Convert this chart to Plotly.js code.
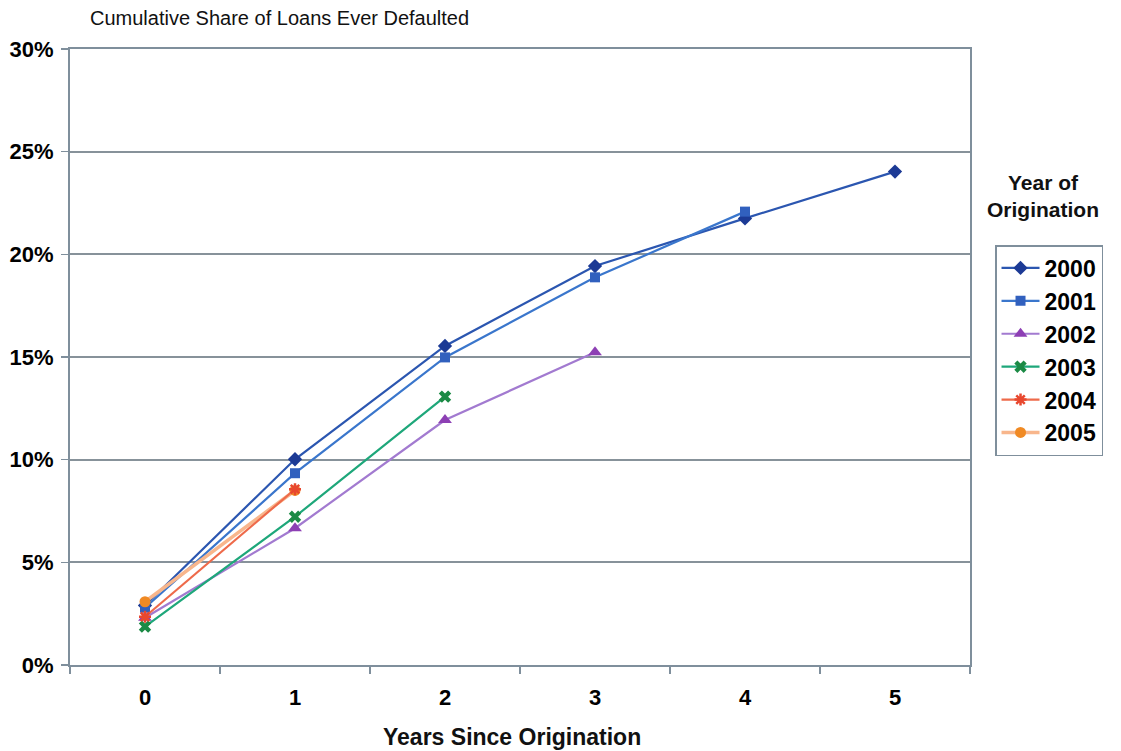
<!DOCTYPE html>
<html>
<head>
<meta charset="utf-8">
<script src="https://cdn.plot.ly/plotly-3.0.1.min.js"></script>
<style>html,body{margin:0;padding:0;background:#fff;}#chart{width:1121px;height:751px;}</style>
</head>
<body>
<div id="chart"></div>
<script>
const years = ["0", "1", "2", "3", "4", "5"];
const s2000 = [2.9, 10.02, 15.54, 19.43, 21.75, 24.03];
const s2001 = [2.79, 9.34, 14.98, 18.88, 22.08];
const s2002 = [2.3, 6.66, 11.93, 15.23];
const s2003 = [1.87, 7.22, 13.07];
const s2004 = [2.35, 8.56];
const s2005 = [3.08, 8.5];
const seriesNames = ["2000", "2001", "2002", "2003", "2004", "2005"];

const FONT = "Liberation Sans, Arial, sans-serif";

function tr(name, y, lineColor, markerColor, symbol, size, lw, rank) {
  return {
    type: "scatter", mode: "lines+markers", name: name,
    x: years.slice(0, y.length), y: y,
    line: {color: lineColor, width: lw},
    marker: {color: markerColor, symbol: symbol, size: size,
             line: {color: markerColor, width: symbol.indexOf("open") >= 0 ? 2.5 : 0}},
    legendgroup: name, legendrank: rank
  };
}

const data = [
  tr(seriesNames[0], s2000, "#2b56b0", "#1c3a95", "diamond", 11, 2.2, 1),
  tr(seriesNames[1], s2001, "#3a76cc", "#3160be", "square", 10, 2.2, 2),
  tr(seriesNames[2], s2002, "#a27ad0", "#8d3fb4", "triangle-up", 12, 2.2, 3),
  tr(seriesNames[3], s2003, "#1ea77a", "#1b8a45", "x", 11, 2.2, 4),
  tr(seriesNames[5], s2005, "#f8b68c", "#f08a24", "circle", 11, 3.5, 6),
  tr(seriesNames[4], s2004, "#ee6a4a", "#e8472e", "asterisk-open", 10, 2.2, 5)
];

const layout = {
  width: 1121, height: 751,
  margin: {l: 70, r: 151, t: 49, b: 86},
  paper_bgcolor: "#ffffff", plot_bgcolor: "#ffffff",
  font: {family: FONT, color: "#000"},
  showlegend: true,
  legend: {
    x: 1.0278, y: 0.6818, xanchor: "left", yanchor: "top",
    bgcolor: "#ffffff", bordercolor: "#7f8f9c", borderwidth: 1.5,
    font: {family: FONT, size: 23, weight: "bold", color: "#000"},
    tracegroupgap: 7, traceorder: "normal", itemwidth: 38
  },
  xaxis: {
    type: "category", range: [-0.5, 5.5], fixedrange: true,
    tickson: "boundaries", ticks: "outside", ticklen: 7, tickcolor: "#7f8f9c", tickwidth: 1.5,
    showline: true, linecolor: "#7f8f9c", linewidth: 2, mirror: true,
    showgrid: false, zeroline: false,
    tickfont: {family: FONT, size: 22, weight: "bold", color: "#000"},
    ticklabelstandoff: 12
  },
  yaxis: {
    range: [0, 30], dtick: 5, ticksuffix: "%", fixedrange: true,
    ticks: "outside", ticklen: 7, tickcolor: "#7f8f9c", tickwidth: 1.5,
    showline: true, linecolor: "#7f8f9c", linewidth: 2, mirror: true,
    showgrid: true, gridcolor: "#87929a", gridwidth: 2, zeroline: false,
    tickfont: {family: FONT, size: 22, weight: "bold", color: "#000"},
    ticklabelstandoff: 3
  },
  annotations: [
    {text: "Cumulative Share of Loans Ever Defaulted", xref: "paper", yref: "paper",
     x: 0.02, y: 1.0503, xanchor: "left", yanchor: "middle", showarrow: false,
     font: {family: FONT, size: 20, color: "#111"}},
    {text: "Years Since Origination", xref: "paper", yref: "paper",
     x: 0.491, y: -0.1169, xanchor: "center", yanchor: "middle", showarrow: false,
     font: {family: FONT, size: 23, weight: "bold", color: "#111"}},
    {text: "Year of<br>Origination", xref: "paper", yref: "paper",
     x: 1.0811, y: 0.761, xanchor: "center", yanchor: "middle", showarrow: false,
     font: {family: FONT, size: 21, weight: "bold", color: "#111"}}
  ]
};

Plotly.newPlot("chart", data, layout, {displayModeBar: false, staticPlot: true});
</script>
</body>
</html>
